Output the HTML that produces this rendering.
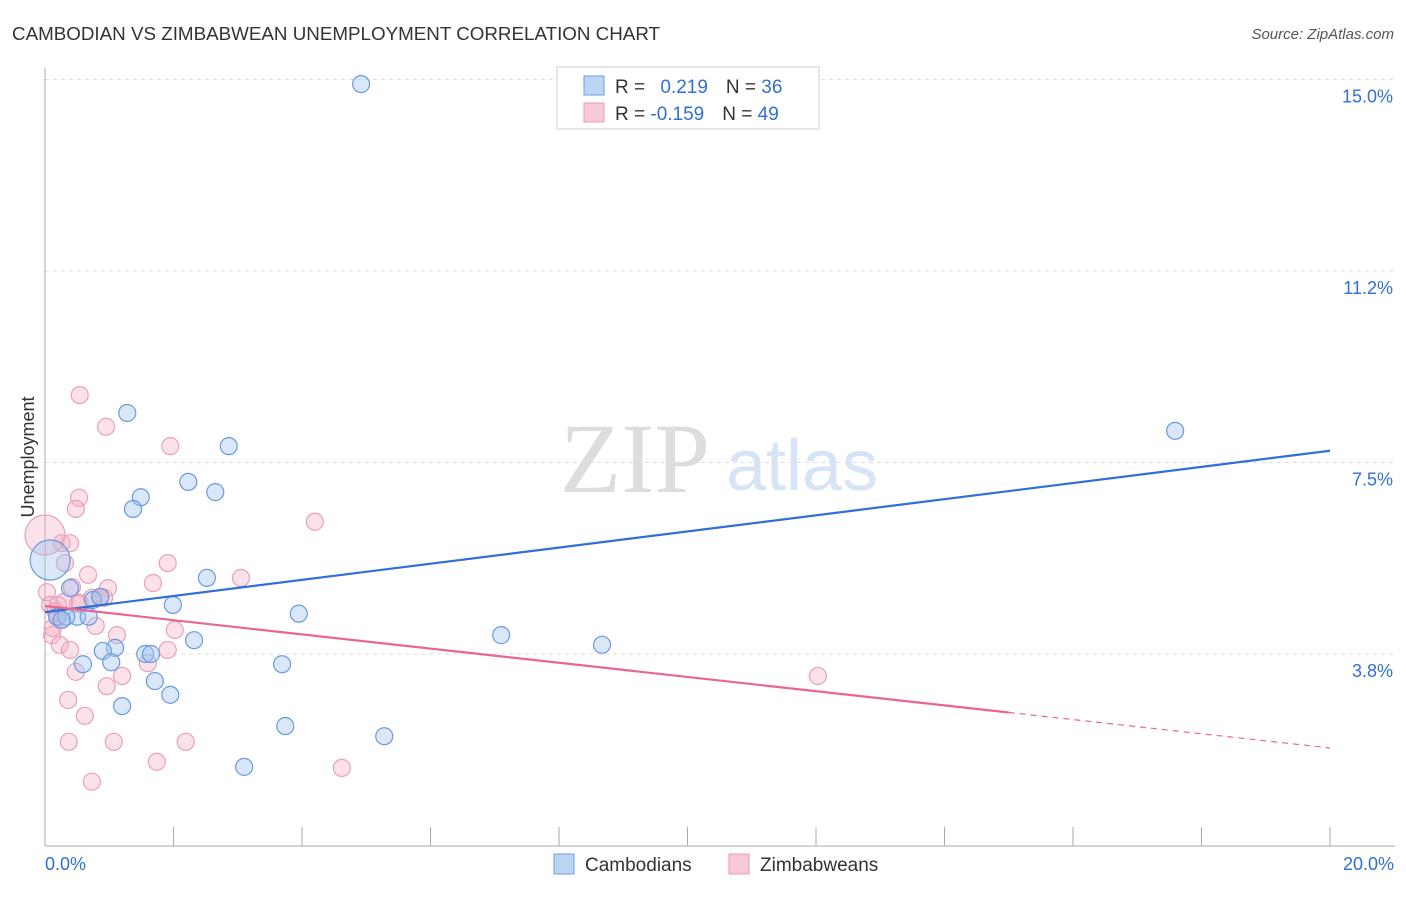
<!DOCTYPE html>
<html><head><meta charset="utf-8"><style>
body{margin:0;background:#fff;font-family:"Liberation Sans",sans-serif;}
svg text{font-family:"Liberation Sans",sans-serif;}
</style></head><body>
<svg id="chart" width="1406" height="892">
<text x="12" y="40" font-size="18.8" fill="#333">CAMBODIAN VS ZIMBABWEAN UNEMPLOYMENT CORRELATION CHART</text>
<text x="1394" y="39" font-size="15" fill="#555" text-anchor="end" font-style="italic">Source: ZipAtlas.com</text>
<text x="34" y="457" font-size="18" fill="#333" text-anchor="middle" transform="rotate(-90 34 457)">Unemployment</text>
<g>
<text x="635" y="492" font-size="100" fill="#ddd" text-anchor="middle" style="font-family:'Liberation Serif',serif">ZIP</text>
<text x="802" y="490" font-size="72" fill="#d6e4f5" text-anchor="middle">atlas</text>
</g>
<g id="grid"></g><g id="axes"></g><g id="marks"></g>
<g>
<rect x="557" y="67" width="262" height="62" fill="#fff" stroke="#ccc"/>
<rect x="584" y="76" width="20" height="19" fill="#bcd5f5" stroke="#6d9ee0"/>
<rect x="584" y="103" width="20" height="19" fill="#f8c9d8" stroke="#e99ab5"/>
<text x="615" y="93" font-size="19" fill="#333">R = <tspan fill="#2f6fd6" dx="10">0.219</tspan><tspan dx="18" fill="#333">N = </tspan><tspan fill="#2f6fd6">36</tspan></text>
<text x="615" y="120" font-size="19" fill="#333">R = <tspan fill="#2f6fd6">-0.159</tspan><tspan dx="18" fill="#333">N = </tspan><tspan fill="#2f6fd6">49</tspan></text>
</g>
<g>
<rect x="554" y="854" width="20" height="20" fill="#bcd5f5" stroke="#6d9ee0"/>
<text x="585" y="871" font-size="19" fill="#333">Cambodians</text>
<rect x="729" y="854" width="20" height="20" fill="#f8c9d8" stroke="#e99ab5"/>
<text x="760" y="871" font-size="19" fill="#333">Zimbabweans</text>
</g>
</svg>
<script>
const yTicks=[3.75,7.5,11.25,15];
const yTickLabels=["3.8%","7.5%","11.2%","15.0%"];
const xTickLabels=["0.0%","20.0%"];
const camX=[4.92,1.28,2.86,2.23,1.49,2.65,1.37,17.59,2.52,1.99,3.95,0.75,0.86,0.39,0.50,0.68,0.19,0.33,2.32,1.09,0.90,1.56,1.65,1.03,0.59,3.69,1.71,1.95,1.20,3.74,5.28,3.10,7.10,8.67,0.08,0.26];
const camY=[14.91,8.47,7.82,7.12,6.82,6.92,6.59,8.12,5.24,4.71,4.54,4.81,4.87,5.04,4.48,4.48,4.48,4.48,4.02,3.87,3.81,3.75,3.75,3.59,3.55,3.55,3.22,2.95,2.73,2.34,2.14,1.54,4.12,3.93,5.59,4.42];
const camBig=[34];
const zimX=[0.54,0.95,1.95,0.53,0.48,4.20,0.0,0.26,0.39,0.31,1.91,0.67,1.68,3.05,0.98,0.42,0.03,0.92,0.73,0.30,0.54,0.08,0.51,0.16,0.26,0.19,0.79,2.02,1.12,0.11,0.23,0.39,1.91,1.60,1.20,0.48,0.96,12.03,0.36,0.62,0.37,1.07,2.19,1.74,4.62,0.73,0.86,0.20,0.12];
const zimY=[8.82,8.20,7.82,6.81,6.59,6.34,6.08,5.92,5.92,5.53,5.53,5.30,5.14,5.24,5.04,5.06,4.96,4.85,4.85,4.77,4.75,4.71,4.73,4.59,4.42,4.46,4.30,4.22,4.12,4.12,3.93,3.83,3.83,3.57,3.32,3.40,3.12,3.32,2.85,2.54,2.03,2.03,2.03,1.64,1.52,1.25,4.85,4.71,4.26];
const zimBig=[6];
const camTrend=[4.57,7.73];
const zimTrend=[4.69,1.91];
const zimSolidEnd=15.0;

const NS="http://www.w3.org/2000/svg";
const X0=45,X1=1330,Y0=845.5,YS=191.5/3.75;
const sx=v=>X0+(v/20)*(X1-X0);
const sy=v=>Y0-v*YS;
function mk(tag,attrs,parent){const e=document.createElementNS(NS,tag);for(const k in attrs)e.setAttribute(k,attrs[k]);parent.appendChild(e);return e;}
const grid=document.getElementById('grid'),axes=document.getElementById('axes'),marks=document.getElementById('marks');
yTicks.forEach((t,i)=>{
  const l=mk('line',{x1:X0,x2:1395,y1:sy(t),y2:sy(t),stroke:'#ddd','stroke-dasharray':'4,4'},grid);
  
  
  const tx=mk('text',{x:1393,y:sy(t)+23,'font-size':18,fill:'#2f6fd6','text-anchor':'end'},axes);
  tx.textContent=yTickLabels[i];
  
  
});
const ya=mk('line',{x1:X0,x2:X0,y1:68,y2:846,stroke:'#aaa'},axes);


const xa=mk('line',{x1:X0,x2:1395,y1:846,y2:846,stroke:'#aaa'},axes);


for(let i=0;i<=10;i++){
  const t=mk('line',{x1:sx(i*2),x2:sx(i*2),y1:827,y2:846,stroke:'#aaa'},axes);
  
  
}
[[0,'start',45],[20,'end',1394]].forEach((d,i)=>{
  const t=mk('text',{x:d[2],y:870,'font-size':18,fill:'#2f6fd6','text-anchor':d[1]},axes);
  t.textContent=xTickLabels[i];
  
  
});
zimX.forEach((x,i)=>{
  const c=mk('circle',{cx:sx(x),cy:sy(zimY[i]),r:zimBig.includes(i)?20:8.5,fill:'rgba(244,170,195,0.35)',stroke:'#eba0ba','stroke-width':1.2},marks);
  
  
});
camX.forEach((x,i)=>{
  const c=mk('circle',{cx:sx(x),cy:sy(camY[i]),r:camBig.includes(i)?20:8.5,fill:'rgba(160,196,240,0.4)',stroke:'#6a9be0','stroke-width':1.2},marks);
  
  
});
const bt=mk('line',{x1:sx(0),y1:sy(camTrend[0]),x2:sx(20),y2:sy(camTrend[1]),stroke:'#2f6fd6','stroke-width':2.2},marks);


const zAt=v=>zimTrend[0]+(zimTrend[1]-zimTrend[0])*v/20;
const pt=mk('line',{x1:sx(0),y1:sy(zimTrend[0]),x2:sx(zimSolidEnd),y2:sy(zAt(zimSolidEnd)),stroke:'#e8668f','stroke-width':2.2},marks);


const pd=mk('line',{x1:sx(zimSolidEnd),y1:sy(zAt(zimSolidEnd)),x2:sx(20),y2:sy(zimTrend[1]),stroke:'#e8668f','stroke-width':1.2,'stroke-dasharray':'6,5'},marks);


</script>
</body></html>
